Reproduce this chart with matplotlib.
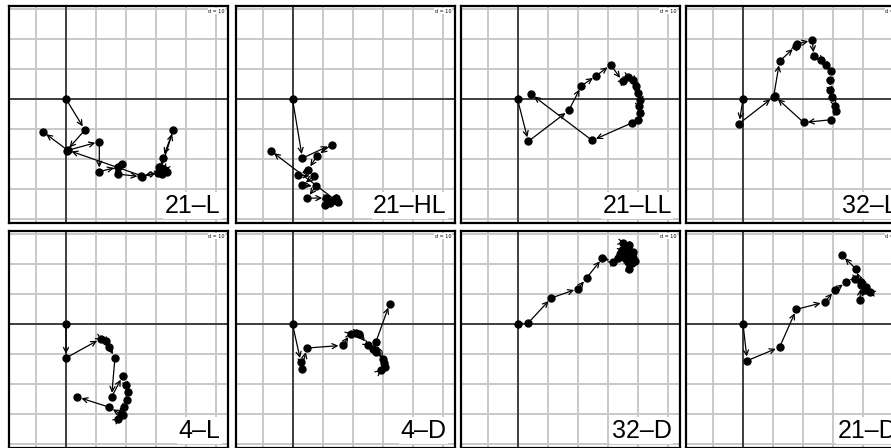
import matplotlib.pyplot as plt

# trajectories, in map units (grid spacing d = 10)
l21_x = [0, 6.3, 0.2, 11.1, 11.1, 17.3, 18.5, 17.3, 25.2, 31.3, 35.8, 32.3, 31.5, 30.5, 33.0, 32.0, 31.0, 33.5, 25.0, 0.5, -7.7]
l21_y = [0, -10.3, -17.2, -14.2, -24.2, -22.6, -21.5, -25.0, -25.9, -24.3, -10.3, -19.7, -23.0, -24.5, -23.5, -25.0, -22.5, -24.3, -25.5, -17.0, -10.9]

hl21_x = [0, 3.3, 13.0, 8.2, 5.2, 1.9, 7.1, 3.3, 7.8, 4.9, 11.3, 13.6, 14.6, 12.4, 10.8, 15.0, -7.3]
hl21_y = [0, -19.7, -15.2, -18.9, -23.6, -25.2, -25.8, -28.6, -29.1, -33.0, -33.0, -33.6, -33.0, -34.7, -35.2, -34.2, -17.2]

ll21_x = [0, 3.6, 17.1, 21.3, 26.3, 31.1, 35.0, 36.9, 38.6, 39.6, 40.2, 40.8, 40.4, 40.8, 40.0, 38.0, 24.9, 4.4]
ll21_y = [0, -14.1, -3.8, 4.4, 7.8, 11.4, 5.9, 7.3, 6.4, 4.2, 2.0, -0.2, -2.4, -4.7, -6.9, -8.0, -13.8, 1.7]

l32_x = [0, -1.3, 10.2, 12.2, 17.6, 18.0, 23.1, 23.6, 26.1, 27.8, 29.3, 28.9, 29.1, 29.8, 30.6, 31.1, 29.4, 20.2, 10.6]
l32_y = [0, -8.2, 0.7, 12.6, 17.6, 18.4, 19.6, 14.2, 13.1, 11.4, 9.2, 6.4, 3.1, 0.7, -2.4, -4.1, -6.9, -7.8, 0.9]

l4_x = [0, 0, 11.6, 13.3, 14.4, 16.3, 15.2, 18.9, 20.0, 20.8, 20.4, 19.3, 18.2, 17.4, 18.9, 14.4, 3.8]
l4_y = [0, -11.3, -4.9, -5.8, -7.7, -11.3, -24.3, -17.3, -20.2, -22.7, -25.4, -27.7, -29.9, -31.6, -30.4, -27.7, -24.3]

d4_x = [0, 2.8, 3.0, 4.8, 16.7, 19.4, 21.1, 22.2, 25.0, 26.7, 27.8, 30.0, 30.6, 29.4, 30.7, 27.8, 32.4]
d4_y = [0, -12.7, -15.1, -8.0, -7.1, -3.2, -2.9, -3.2, -6.9, -8.2, -9.3, -11.6, -12.9, -15.4, -14.3, -6.0, 6.8]

d32_x = [0, 3.6, 11.3, 20.2, 23.0, 28.3, 31.9, 33.6, 34.7, 36.9, 38.0, 36.9, 35.8, 34.1, 35.2, 37.0, 38.5, 39.0, 37.0, 37.4, 38.6, 36.0, 38.2]
d32_y = [0, 0.4, 8.7, 11.8, 15.3, 22.0, 20.8, 21.9, 24.6, 25.1, 22.9, 20.8, 21.9, 23.4, 27.0, 26.5, 24.0, 21.0, 18.5, 21.0, 22.1, 23.0, 20.5]

d21_x = [0, 1.4, 12.2, 17.8, 27.2, 30.6, 34.4, 37.2, 39.4, 41.1, 42.2, 40.6, 38.9, 39.4, 37.6, 33.0]
d21_y = [0, -12.2, -7.7, 4.9, 7.3, 11.2, 14.0, 15.1, 14.0, 12.3, 10.7, 11.2, 7.9, 13.1, 18.4, 22.9]

labels = ['21–L', '21–HL', '21–LL', '32–L', '4–L', '4–D', '32–D', '21–D']
panels = [(l21_x, l21_y), (hl21_x, hl21_y), (ll21_x, ll21_y), (l32_x, l32_y),
          (l4_x, l4_y), (d4_x, d4_y), (d32_x, d32_y), (d21_x, d21_y)]

W, H = 891, 448
col_left = [9, 235.5, 460.5, 686]
row_top = [6, 231]
pw, ph = 219, 217

fig = plt.figure(figsize=(W / 100, H / 100), dpi=100)

for i, (lab, (xs, ys)) in enumerate(zip(labels, panels)):
    r, c = divmod(i, 4)
    ax = fig.add_axes([col_left[c] / W, (H - row_top[r] - ph) / H, pw / W, ph / H])
    ax.set_xlim(-19, 54)
    ax.set_ylim(-41.3, 31)
    ax.set_xticks(range(-10, 60, 10))
    ax.set_yticks(range(-40, 40, 10))
    ax.grid(True, color='#c8c8c8', lw=1.4)
    ax.set_axisbelow(True)
    ax.tick_params(length=0, labelbottom=False, labelleft=False)
    for s in ax.spines.values():
        s.set_linewidth(1.6)
        s.set_color('black')
    ax.axhline(0, color='#1a1a1a', lw=1.1, zorder=1)
    ax.axvline(0, color='#1a1a1a', lw=1.1, zorder=1)

    for j in range(len(xs) - 1):
        ax.annotate('', xy=(xs[j + 1], ys[j + 1]), xytext=(xs[j], ys[j]),
                    arrowprops=dict(arrowstyle='->', color='black', lw=0.9,
                                    shrinkA=0, shrinkB=3, mutation_scale=9),
                    zorder=2)
    ax.plot(xs, ys, 'o', color='black', ms=5, zorder=3)

    ax.text(0.965, 0.025, lab, transform=ax.transAxes, ha='right', va='bottom',
            fontsize=18, family='Liberation Sans', zorder=5,
            bbox=dict(facecolor='white', edgecolor='none', pad=1))
    ax.text(0.985, 0.988, 'd = 10', transform=ax.transAxes, ha='right', va='top',
            fontsize=3.5, zorder=5,
            bbox=dict(facecolor='white', edgecolor='none', pad=0.5))

fig.savefig('out.png', dpi=100)
